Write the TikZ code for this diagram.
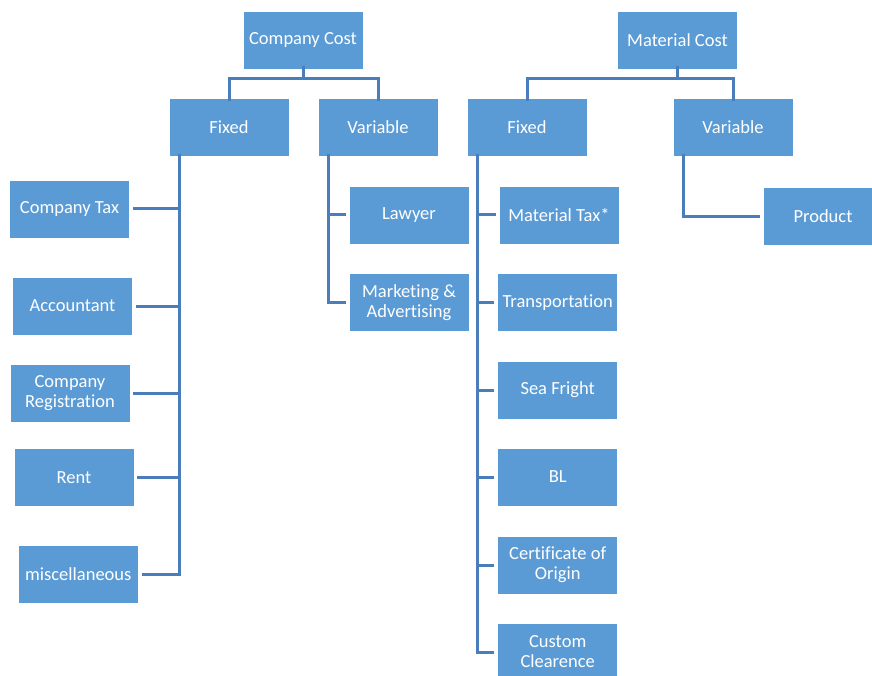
\documentclass[tikz,border=0pt]{standalone}
\usepackage{fontspec}
\setmainfont[RawFeature={-liga;-clig;-dlig}]{Carlito}
\definecolor{boxblue}{HTML}{5B9BD5}
\definecolor{lineblue}{HTML}{4A7EBB}
\begin{document}
\begin{tikzpicture}[x=1pt,y=-1pt,
  box/.style={rectangle, fill=boxblue, draw=white, line width=0.8pt,
    minimum width=120pt, minimum height=58pt, inner sep=2pt,
    text=white, align=center,
    font=\fontsize{18.5}{20}\selectfont},
  conn/.style={draw=lineblue, line width=3pt}]
\useasboundingbox (0,0) rectangle (872,676);
\fill[white] (0,0) rectangle (872,676);

\node[box] (cc) at (303,40) {Company Cost};
\node[box] (mc) at (677.5,40) {Material Cost};
\node[box] (f1) at (229,127.5) {Fixed};
\node[box] (v1) at (378,127.5) {Variable};
\node[box] (f2) at (527,127.5) {Fixed};
\node[box] (v2) at (733,127.5) {Variable};

\node[box] (ctax) at (69.5,209) {Company Tax};
\node[box] (acc) at (72.5,306) {Accountant};
\node[box] (reg) at (70,393.5) {Company\\Registration};
\node[box] (rent) at (74,477.5) {Rent};
\node[box] (misc) at (78.3,574) {miscellaneous};

\node[box] (law) at (409,215) {Lawyer};
\node[box] (mkt) at (409,302.5) {Marketing \&\\Advertising};

\node[box] (mtax) at (559,215) {Material Tax*};
\node[box] (trans) at (557.7,302.5) {Transportation};
\node[box] (sea) at (557.7,390) {Sea Fright};
\node[box] (bl) at (557.7,477) {BL};
\node[box] (cert) at (557.7,565) {Certificate of\\Origin};
\node[box] (cust) at (557.7,652) {Custom\\Clearence};

\node[box] (prod) at (823,216.5) {Product};

% top-level connectors
\draw[conn] ([yshift=3pt]cc.south) -- ++(0,12) -| ([yshift=-3pt]f1.north);
\draw[conn] ([yshift=3pt]cc.south) -- ++(0,12) -| ([yshift=-3pt]v1.north);
\draw[conn] ([yshift=3pt]mc.south) -- ++(0,12) -| ([yshift=-3pt]f2.north);
\draw[conn] ([yshift=3pt]mc.south) -- ++(0,12) -| ([yshift=-3pt]v2.north);

% trunks
\coordinate (t1) at ([xshift=-50pt,yshift=3pt]f1.south);
\coordinate (t2) at ([xshift=-50pt,yshift=3pt]v1.south);
\coordinate (t3) at ([xshift=-50pt,yshift=3pt]f2.south);
\coordinate (t4) at ([xshift=-50pt,yshift=3pt]v2.south);

% company fixed
\draw[conn] (t1) |- ([xshift=3pt]misc.east);
\draw[conn] ([xshift=3pt]ctax.east) -- (t1 |- ctax.east);
\draw[conn] ([xshift=3pt]acc.east) -- (t1 |- acc.east);
\draw[conn] ([xshift=3pt]reg.east) -- (t1 |- reg.east);
\draw[conn] ([xshift=3pt]rent.east) -- (t1 |- rent.east);

% company variable
\draw[conn] (t2) |- ([xshift=-3pt]mkt.west);
\draw[conn] (t2 |- law.west) -- ([xshift=-3pt]law.west);

% material fixed
\draw[conn] (t3) |- ([xshift=-3pt]cust.west);
\draw[conn] (t3 |- mtax.west) -- ([xshift=-3pt]mtax.west);
\draw[conn] (t3 |- trans.west) -- ([xshift=-3pt]trans.west);
\draw[conn] (t3 |- sea.west) -- ([xshift=-3pt]sea.west);
\draw[conn] (t3 |- bl.west) -- ([xshift=-3pt]bl.west);
\draw[conn] (t3 |- cert.west) -- ([xshift=-3pt]cert.west);

% material variable
\draw[conn] (t4) |- ([xshift=-3pt]prod.west);
\end{tikzpicture}
\end{document}
